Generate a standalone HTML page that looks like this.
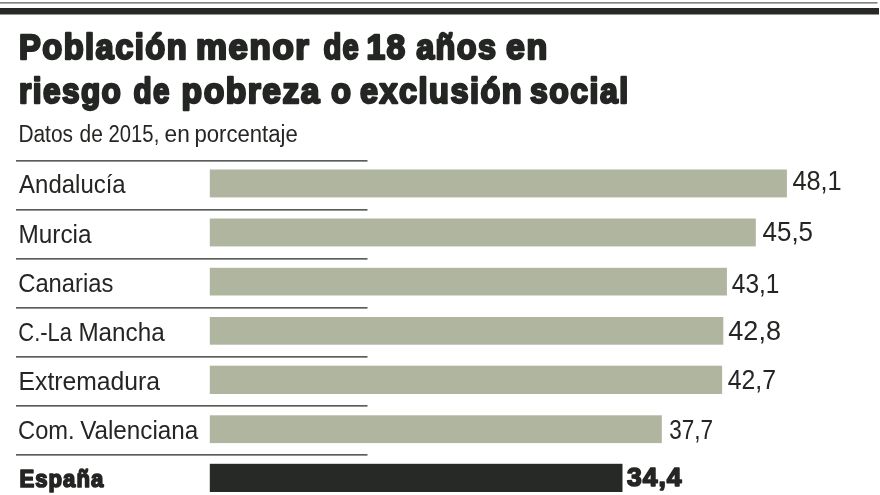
<!DOCTYPE html>
<html lang="es"><head><meta charset="utf-8"><title>Población menor de 18 años en riesgo de pobreza o exclusión social</title>
<style>
html,body{margin:0;padding:0;background:#fff;}
body{width:880px;height:495px;overflow:hidden;}
svg{display:block;}
text{font-family:"Liberation Sans",sans-serif;fill:#242623;white-space:pre;}
.t{font-weight:bold;font-size:35.5px;stroke:#242623;stroke-width:2.4px;stroke-linejoin:round;letter-spacing:1.6px;}
.s{font-size:23px;}
.l{font-size:25.6px;}
.v{font-size:27.4px;}
.b{font-weight:bold;font-size:24px;stroke:#242623;stroke-width:1.7px;stroke-linejoin:round;letter-spacing:1.1px;}
.vb{font-weight:bold;font-size:25.5px;stroke:#242623;stroke-width:1.6px;stroke-linejoin:round;letter-spacing:1px;}
</style></head><body>
<svg width="880" height="495" viewBox="0 0 880 495">
<rect x="0" y="0" width="880" height="495" fill="#fefffe"/>
<rect x="0" y="2.1" width="877.5" height="1.5" fill="#777975"/>
<rect x="0" y="8" width="879" height="6.5" fill="#272926"/>
<rect x="16" y="160.1" width="351.5" height="1.5" fill="#4a4c48"/>
<rect x="209.8" y="169.5" width="577.1" height="27.9" fill="#afb59f"/>
<rect x="16" y="209.1" width="351.5" height="1.5" fill="#4a4c48"/>
<rect x="209.8" y="218.5" width="546.0" height="27.9" fill="#afb59f"/>
<rect x="16" y="258.1" width="351.5" height="1.5" fill="#4a4c48"/>
<rect x="209.8" y="267.8" width="517.1" height="27.7" fill="#afb59f"/>
<rect x="16" y="307.1" width="351.5" height="1.5" fill="#4a4c48"/>
<rect x="209.8" y="317.0" width="513.5" height="27.7" fill="#afb59f"/>
<rect x="16" y="356.1" width="351.5" height="1.5" fill="#4a4c48"/>
<rect x="209.8" y="365.7" width="512.3" height="28.3" fill="#afb59f"/>
<rect x="16" y="405.1" width="351.5" height="1.5" fill="#4a4c48"/>
<rect x="209.8" y="415.3" width="452.0" height="27.8" fill="#afb59f"/>
<rect x="16" y="454.1" width="351.5" height="1.5" fill="#4a4c48"/>
<rect x="209.8" y="463.8" width="412.7" height="28.2" fill="#272926"/>
<text class="t" y="58.5"><tspan x="19.03" textLength="169.13" lengthAdjust="spacingAndGlyphs">Población</tspan> <tspan x="195.99" textLength="114.46" lengthAdjust="spacingAndGlyphs">menor</tspan> <tspan x="323.42" textLength="36.68" lengthAdjust="spacingAndGlyphs">de</tspan> <tspan x="366.42" textLength="40.36" lengthAdjust="spacingAndGlyphs">18</tspan> <tspan x="416.14" textLength="81.39" lengthAdjust="spacingAndGlyphs">años</tspan> <tspan x="506.00" textLength="42.63" lengthAdjust="spacingAndGlyphs">en</tspan></text>
<text class="t" y="102.7"><tspan x="19.04" textLength="103.31" lengthAdjust="spacingAndGlyphs">riesgo</tspan> <tspan x="133.44" textLength="37.27" lengthAdjust="spacingAndGlyphs">de</tspan> <tspan x="181.61" textLength="139.39" lengthAdjust="spacingAndGlyphs">pobreza</tspan> <tspan x="331.00" textLength="21.42" lengthAdjust="spacingAndGlyphs">o</tspan> <tspan x="360.00" textLength="163.01" lengthAdjust="spacingAndGlyphs">exclusión</tspan> <tspan x="530.00" textLength="99.50" lengthAdjust="spacingAndGlyphs">social</tspan></text>
<text class="s" y="142.4"><tspan x="18.43" textLength="54.57" lengthAdjust="spacingAndGlyphs">Datos</tspan> <tspan x="79.57" textLength="23.31" lengthAdjust="spacingAndGlyphs">de</tspan> <tspan x="108.60" textLength="50.66" lengthAdjust="spacingAndGlyphs">2015,</tspan> <tspan x="164.58" textLength="25.20" lengthAdjust="spacingAndGlyphs">en</tspan> <tspan x="194.42" textLength="103.32" lengthAdjust="spacingAndGlyphs">porcentaje</tspan></text>
<text class="l" y="192.8"><tspan x="19.12" textLength="106.55" lengthAdjust="spacingAndGlyphs">Andalucía</tspan></text>
<text class="l" y="242.5"><tspan x="18.50" textLength="73.07" lengthAdjust="spacingAndGlyphs">Murcia</tspan></text>
<text class="l" y="291.8"><tspan x="18.23" textLength="95.09" lengthAdjust="spacingAndGlyphs">Canarias</tspan></text>
<text class="l" y="340.5"><tspan x="18.37" textLength="53.58" lengthAdjust="spacingAndGlyphs">C.-La</tspan> <tspan x="78.40" textLength="86.28" lengthAdjust="spacingAndGlyphs">Mancha</tspan></text>
<text class="l" y="389.8"><tspan x="18.55" textLength="141.43" lengthAdjust="spacingAndGlyphs">Extremadura</tspan></text>
<text class="l" y="438.5"><tspan x="18.12" textLength="56.53" lengthAdjust="spacingAndGlyphs">Com.</tspan> <tspan x="80.13" textLength="118.16" lengthAdjust="spacingAndGlyphs">Valenciana</tspan></text>
<text class="l b" y="486.9"><tspan x="19.56" textLength="84.66" lengthAdjust="spacingAndGlyphs">España</tspan></text>
<text class="v" y="190.4"><tspan x="792.40" textLength="49.29" lengthAdjust="spacingAndGlyphs">48,1</tspan></text>
<text class="v" y="241.2"><tspan x="762.56" textLength="50.45" lengthAdjust="spacingAndGlyphs">45,5</tspan></text>
<text class="v" y="292.7"><tspan x="731.81" textLength="47.60" lengthAdjust="spacingAndGlyphs">43,1</tspan></text>
<text class="v" y="339.5"><tspan x="728.35" textLength="52.57" lengthAdjust="spacingAndGlyphs">42,8</tspan></text>
<text class="v" y="389.3"><tspan x="727.76" textLength="48.24" lengthAdjust="spacingAndGlyphs">42,7</tspan></text>
<text class="v" y="439.0"><tspan x="669.14" textLength="43.82" lengthAdjust="spacingAndGlyphs">37,7</tspan></text>
<text class="v vb" y="485.8"><tspan x="626.94" textLength="55.69" lengthAdjust="spacingAndGlyphs">34,4</tspan></text>
</svg></body></html>
